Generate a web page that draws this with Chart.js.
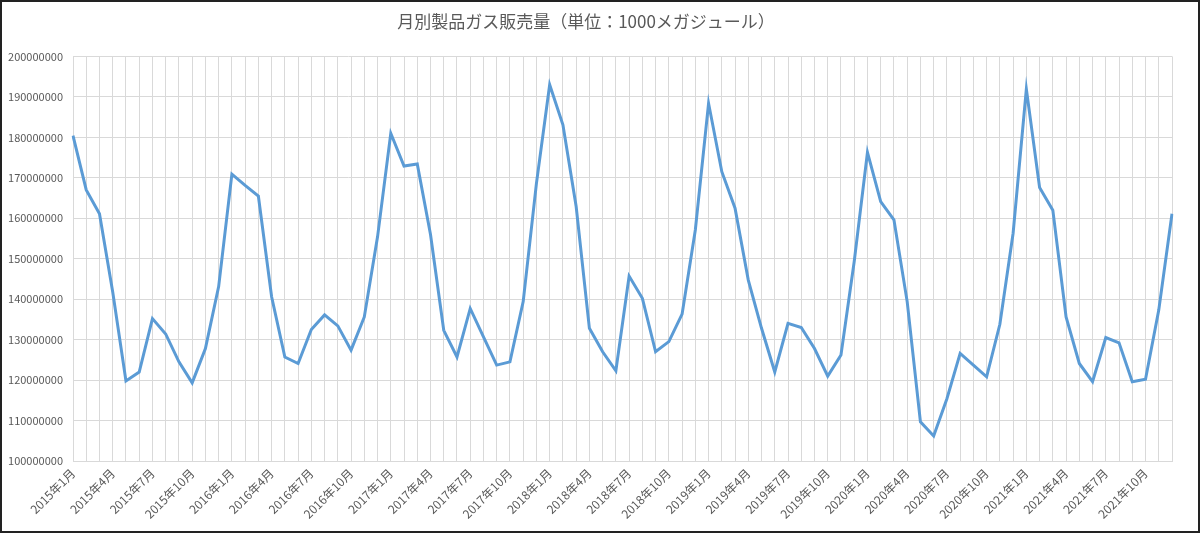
<!DOCTYPE html>
<html>
<head>
<meta charset="utf-8">
<script src="https://cdn.jsdelivr.net/npm/chart.js@4/dist/chart.umd.min.js"></script>
<style>
  html, body { margin: 0; padding: 0; background: #fff; }
  #wrap { position: relative; width: 1200px; height: 533px; }
  #frame { position: absolute; left: 0; top: 0; width: 1200px; height: 533px; box-sizing: border-box; border: 2px solid #222; pointer-events: none; }
  canvas { display: block; }
</style>
</head>
<body>
<div id="wrap">
  <canvas id="gasChart" width="1200" height="533"></canvas>
  <div id="frame"></div>
</div>
<script>
"use strict";

// 2015年1月 … 2021年12月
const years = [2015, 2016, 2017, 2018, 2019, 2020, 2021];
const months = [1, 2, 3, 4, 5, 6, 7, 8, 9, 10, 11, 12];

// 販売量（単位：1000メガジュール）
const sales2015 = [180400000, 167000000, 161100000, 141800000, 119800000, 122000000, 135200000, 131400000, 124500000, 119300000, 127800000, 143100000];
const sales2016 = [170900000, 168100000, 165500000, 140600000, 125700000, 124100000, 132500000, 136100000, 133400000, 127400000, 135600000, 155400000];
const sales2017 = [181000000, 172900000, 173400000, 156000000, 132300000, 125700000, 137700000, 130700000, 123700000, 124500000, 139400000, 168600000];
const sales2018 = [193000000, 183100000, 162900000, 132800000, 127000000, 122300000, 145700000, 140200000, 127000000, 129500000, 136300000, 157100000];
const sales2019 = [188400000, 171500000, 162500000, 144700000, 132800000, 122000000, 134000000, 133000000, 127800000, 121000000, 126200000, 149300000];
const sales2020 = [176300000, 164100000, 159600000, 139400000, 109700000, 106200000, 115400000, 126600000, 123700000, 120800000, 133800000, 156300000];
const sales2021 = [191900000, 167600000, 162000000, 135600000, 124100000, 119600000, 130500000, 129200000, 119600000, 120200000, 137300000, 161100000];

const labels = [];
years.forEach(y => months.forEach(m => labels.push(y + '年' + m + '月')));
const sales = [].concat(sales2015, sales2016, sales2017, sales2018, sales2019, sales2020, sales2021);

const textColor = '#595959';
const gridColor = '#d9d9d9';
const fontFamily = '"Noto Sans CJK JP", "Noto Sans", sans-serif';

new Chart(document.getElementById('gasChart'), {
  type: 'line',
  data: {
    labels,
    datasets: [{
      data: sales,
      borderColor: '#5B9BD5',
      borderWidth: 3,
      pointRadius: 0,
      tension: 0,
      fill: false,
    }]
  },
  options: {
    responsive: false,
    animation: false,
    layout: { padding: { left: 0, right: 28, top: 0, bottom: 0 } },
    plugins: {
      legend: { display: false },
      tooltip: { enabled: false },
      title: {
        display: true,
        text: '月別製品ガス販売量（単位：1000メガジュール）',
        color: textColor,
        font: { family: fontFamily, size: 17, weight: 'normal' },
        padding: { top: 11, bottom: 25 }
      }
    },
    scales: {
      x: {
        offset: false,
        grid: { color: gridColor, drawTicks: false },
        border: { color: gridColor },
        ticks: {
          autoSkip: false,
          maxRotation: 45,
          minRotation: 45,
          padding: 5,
          color: textColor,
          font: { family: fontFamily, size: 12 },
          callback: (v, i) => (i % 3 === 0 ? labels[i] : '')
        },
        afterFit: s => { s.height = 72; }
      },
      y: {
        min: 100000000,
        max: 200000000,
        grid: { color: gridColor, drawTicks: false },
        border: { color: gridColor },
        ticks: {
          stepSize: 10000000,
          padding: 10,
          color: textColor,
          font: { family: fontFamily, size: 11 },
          callback: v => String(v)
        },
        afterFit: s => { s.width = 73; }
      }
    }
  }
});
</script>
</body>
</html>
